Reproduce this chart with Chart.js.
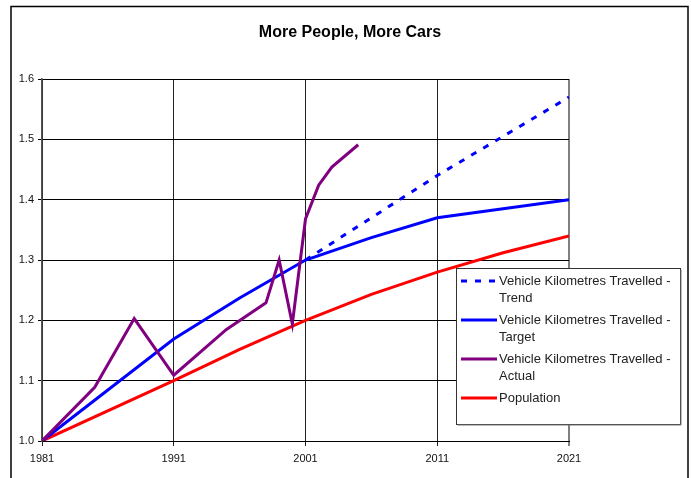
<!DOCTYPE html>
<html>
<head>
<meta charset="utf-8">
<title>More People, More Cars</title>
<script src="https://cdn.jsdelivr.net/npm/chart.js@4"></script>
<style>
  body { margin: 0; background: #fff; }
  #wrap { position: relative; width: 691px; height: 478px; }
</style>
</head>
<body>
<div id="wrap"><canvas id="myChart" width="691" height="478"></canvas></div>
<script>
'use strict';
const titleText = 'More People, More Cars';
const xTicks = [1981, 1991, 2001, 2011, 2021];
const yTicks = [1.0, 1.1, 1.2, 1.3, 1.4, 1.5, 1.6];

const trendLabel = ['Vehicle Kilometres Travelled -', 'Trend'];
const trendYears = [2001, 2011, 2021];
const trendValues = [1.30, 1.44, 1.57];

const targetLabel = ['Vehicle Kilometres Travelled -', 'Target'];
const targetYears = [1981, 1991, 1996, 2001, 2006, 2011, 2021];
const targetValues = [1.0, 1.169, 1.237, 1.30, 1.337, 1.37, 1.40];

const actualLabel = ['Vehicle Kilometres Travelled -', 'Actual'];
const actualYears = [1981, 1985, 1988, 1991, 1995, 1998, 1999, 2000, 2001, 2002, 2003, 2005];
const actualValues = [1.0, 1.089, 1.203, 1.109, 1.185, 1.229, 1.30, 1.194, 1.368, 1.424, 1.454, 1.491];

const popLabel = ['Population'];
const popYears = [1981, 1991, 1996, 2001, 2006, 2011, 2016, 2021];
const popValues = [1.0, 1.10, 1.152, 1.20, 1.243, 1.28, 1.312, 1.34];

///////////////////////////////////////////////////////

function points(years, values) {
  let out = [];
  for (let i = 0; i < years.length; i++) {
    out.push({x: years[i], y: values[i]});
  }
  return out;
}

const FONT = '"Liberation Sans", Arial, sans-serif';

// outer frame, title and the legend box, Excel style
const framePlugin = {
  id: 'frame',
  beforeDraw(chart) {
    const ctx = chart.ctx;
    ctx.save();
    ctx.fillStyle = '#fff';
    ctx.fillRect(0, 0, chart.width, chart.height);
    ctx.strokeStyle = '#000';
    ctx.lineWidth = 1.5;
    ctx.strokeRect(11, 6.5, 677, 500);
    ctx.fillStyle = '#000';
    ctx.font = 'bold 16px ' + FONT;
    ctx.textAlign = 'center';
    ctx.textBaseline = 'middle';
    ctx.fillText(titleText, 350, 33);
    ctx.restore();
  },
  afterDraw(chart) {
    const ctx = chart.ctx;
    const left = 456.5, top = 268.5, right = 680.5, bottom = 424.5;
    ctx.save();
    ctx.fillStyle = '#fff';
    ctx.fillRect(left, top, right - left, bottom - top);
    ctx.strokeStyle = '#333';
    ctx.lineWidth = 1;
    ctx.strokeRect(left, top, right - left, bottom - top);
    ctx.strokeStyle = '#777';
    ctx.beginPath();
    ctx.moveTo(right + 0.5, top + 1);
    ctx.lineTo(right + 0.5, bottom + 0.5);
    ctx.lineTo(left + 1, bottom + 0.5);
    ctx.stroke();

    const rowY = [281, 320, 359, 398];
    ctx.font = '13px ' + FONT;
    ctx.textBaseline = 'middle';
    ctx.fillStyle = '#222';
    chart.data.datasets.forEach((ds, i) => {
      const y = rowY[i];
      ctx.strokeStyle = ds.borderColor;
      ctx.lineWidth = 3;
      ctx.setLineDash(ds.borderDash || []);
      ctx.beginPath();
      ctx.moveTo(461, y);
      ctx.lineTo(497, y);
      ctx.stroke();
      ctx.setLineDash([]);
      ds.legendLines.forEach((t, j) => {
        ctx.fillText(t, 499, y + j * 17);
      });
    });
    ctx.restore();
  }
};

let context = document.getElementById('myChart').getContext('2d');
let chart = new Chart(context, {
  type: 'line',
  data: {
    datasets: [
      {
        label: trendLabel.join(' '),
        legendLines: trendLabel,
        data: points(trendYears, trendValues),
        borderColor: '#0000ff',
        borderWidth: 3,
        borderDash: [6, 8],
        pointRadius: 0,
        tension: 0,
        order: 3
      },
      {
        label: targetLabel.join(' '),
        legendLines: targetLabel,
        data: points(targetYears, targetValues),
        borderColor: '#0000ff',
        borderWidth: 3,
        pointRadius: 0,
        tension: 0,
        order: 2
      },
      {
        label: actualLabel.join(' '),
        legendLines: actualLabel,
        data: points(actualYears, actualValues),
        borderColor: '#800080',
        borderWidth: 3,
        pointRadius: 0,
        tension: 0,
        order: 1
      },
      {
        label: popLabel.join(' '),
        legendLines: popLabel,
        data: points(popYears, popValues),
        borderColor: '#ff0000',
        borderWidth: 3,
        pointRadius: 0,
        tension: 0,
        order: 4
      }
    ]
  },
  options: {
    responsive: false,
    animation: false,
    layout: { padding: { left: 12, right: 122, top: 79, bottom: 0 } },
    plugins: {
      legend: { display: false },
      tooltip: { enabled: false },
      title: { display: false }
    },
    scales: {
      x: {
        type: 'linear',
        min: xTicks[0],
        max: xTicks[xTicks.length - 1],
        afterBuildTicks: (axis) => { axis.ticks = xTicks.map(v => ({value: v})); },
        afterFit: (axis) => { axis.height = 37; },
        ticks: {
          callback: (v) => String(v),
          color: '#111',
          font: { family: FONT, size: 11 },
          padding: 6,
          maxRotation: 0
        },
        grid: {
          color: (c) => (c.tick && c.tick.value === 2021 ? '#808080' : '#222'),
          lineWidth: (c) => (c.tick && c.tick.value === 2021 ? 2 : 1),
          tickLength: 5
        },
        border: { color: '#000', width: 1 }
      },
      y: {
        min: yTicks[0],
        max: yTicks[yTicks.length - 1],
        afterBuildTicks: (axis) => { axis.ticks = yTicks.map(v => ({value: v})); },
        afterFit: (axis) => { axis.width = 30; },
        ticks: {
          callback: (v) => Number(v).toFixed(1),
          color: '#111',
          font: { family: FONT, size: 11 },
          padding: 4
        },
        grid: {
          color: '#000',
          lineWidth: 1,
          tickLength: 4
        },
        border: { color: '#555', width: 1.5 }
      }
    }
  },
  plugins: [framePlugin]
});
</script>
</body>
</html>
